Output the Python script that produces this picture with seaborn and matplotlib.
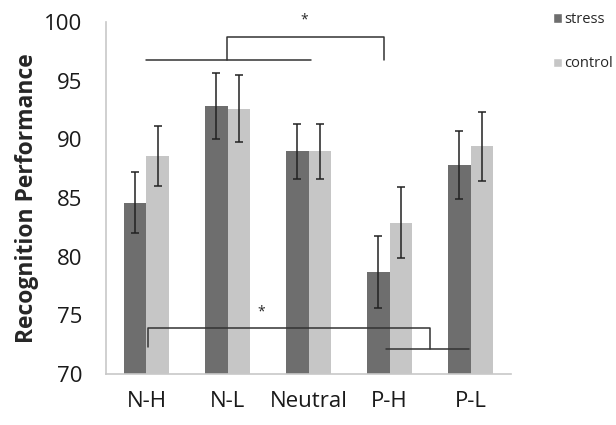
import numpy as np
import pandas as pd
import matplotlib
matplotlib.use("Agg")
import matplotlib.pyplot as plt
import seaborn as sns
from matplotlib.patches import Patch

# values
conditions = ["N-H", "N-L", "Neutral", "P-H", "P-L"]
groups = ["stress", "control"]
stress_mean = [84.6, 92.85, 89.0, 78.7, 87.8]
stress_err = [2.6, 2.8, 2.35, 3.1, 2.9]
control_mean = [88.6, 92.6, 89.0, 82.9, 89.4]
control_err = [2.55, 2.85, 2.35, 3.05, 2.95]

# significance brackets (x in category units, y in data units)
top_line_x = [0.0, 2.03]
top_line_y = 96.8
top_bracket_x = [0.99, 2.93]
top_bracket_y = [96.8, 98.7]
top_star = (1.94, 100.2)
bottom_line_x = [0.02, 3.5]
bottom_line_y = [72.3, 73.9]
short_line_x = [2.96, 3.98]
short_line_y = 72.1
bottom_star = (1.41, 75.3)

colors = {"stress": "#6e6e6e", "control": "#c6c6c6"}

df = pd.DataFrame({
    "condition": conditions * 2,
    "group": ["stress"] * 5 + ["control"] * 5,
    "value": stress_mean + control_mean,
    "err": stress_err + control_err,
})

sns.set_style("white")
plt.rcParams["font.family"] = ["Open Sans", "DejaVu Sans"]

fig = plt.figure(figsize=(6.16, 4.25), dpi=100)
ax = fig.add_axes([0.172, 0.12, 0.658, 0.828])

sns.barplot(data=df, x="condition", y="value", hue="group", order=conditions,
            hue_order=groups, palette=colors, width=0.555, errorbar=None,
            legend=False, ax=ax, linewidth=0, saturation=1)

# error bars from the drawn bars
for container, g in zip(ax.containers, groups):
    sub = df[df["group"] == g].set_index("condition").loc[conditions]
    xs = [b.get_x() + b.get_width() / 2 for b in container]
    ax.errorbar(xs, sub["value"], yerr=sub["err"], fmt="none", ecolor="#222222",
                elinewidth=1.1, capsize=3.2, capthick=1.1, zorder=5)

ax.set_ylim(70, 100)
ax.set_xlim(-0.5, 4.5)
ax.set_yticks(np.arange(70, 101, 5))
ax.set_xlabel("")
ax.set_ylabel("Recognition Performance", fontsize=16.5, fontweight="bold")
ax.yaxis.set_label_coords(-0.165, 0.5)
ax.tick_params(axis="both", labelsize=16, colors="#1a1a1a")
ax.tick_params(axis="y", length=4, color="#d0d0d0", pad=13)
ax.tick_params(axis="x", length=0, pad=12)
ax.set_xticks(np.arange(-0.5, 5, 1), minor=True)
ax.tick_params(axis="x", which="minor", length=6, color="#c8c8c8", width=1)

for s in ["top", "right"]:
    ax.spines[s].set_visible(False)
for s in ["left", "bottom"]:
    ax.spines[s].set_color("#c8c8c8")
    ax.spines[s].set_linewidth(1.2)

# significance markers
lc = "#333333"
ax.plot(top_line_x, [top_line_y, top_line_y], color=lc, lw=1.1, clip_on=False)
ax.plot([top_bracket_x[0], top_bracket_x[0], top_bracket_x[1], top_bracket_x[1]],
        [top_bracket_y[0], top_bracket_y[1], top_bracket_y[1], top_bracket_y[0]],
        color=lc, lw=1.1, clip_on=False)
ax.text(*top_star, "*", ha="center", va="center", fontsize=10, clip_on=False)
ax.plot([bottom_line_x[0], bottom_line_x[0], bottom_line_x[1], bottom_line_x[1]],
        [bottom_line_y[0], bottom_line_y[1], bottom_line_y[1], short_line_y],
        color=lc, lw=1.1, zorder=6)
ax.plot(short_line_x, [short_line_y, short_line_y], color=lc, lw=1.1, zorder=6)
ax.text(*bottom_star, "*", ha="center", va="center", fontsize=10)

handles = [Patch(facecolor=colors[g], label=g) for g in groups]
fig.legend(handles=handles, loc="upper left", bbox_to_anchor=(0.888, 0.985),
           frameon=False, fontsize=10.5, handlelength=0.6, handleheight=0.6,
           handletextpad=0.2, labelspacing=2.0, borderaxespad=0)

fig.savefig("out.png", dpi=100)
